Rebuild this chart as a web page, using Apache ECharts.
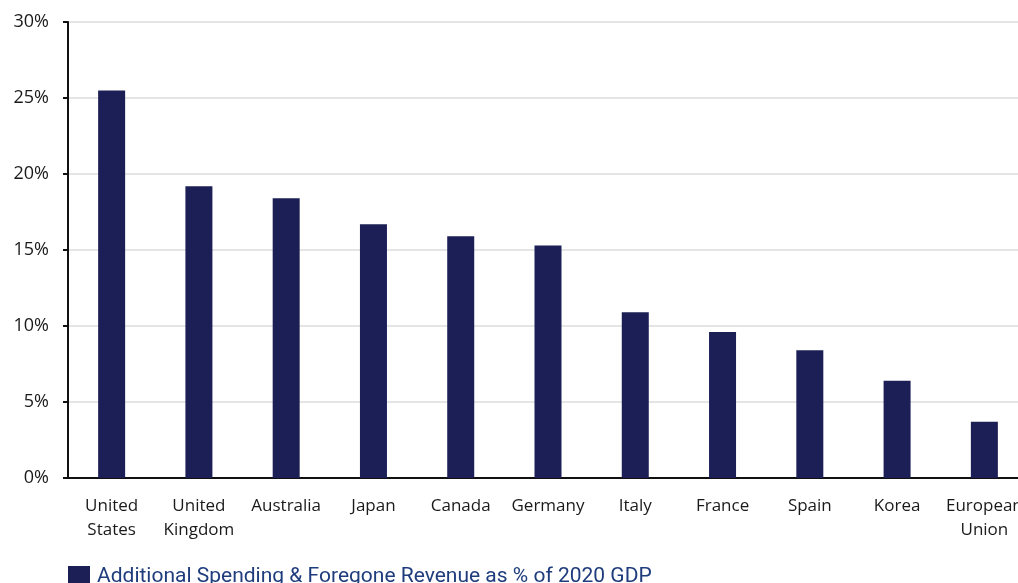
<!DOCTYPE html>
<html>
<head>
<meta charset="utf-8">
<script src="https://cdn.jsdelivr.net/npm/echarts@6/dist/echarts.min.js"></script>
<style>
  html, body { margin: 0; padding: 0; background: #ffffff; overflow: hidden; }
  /* plot runs slightly past the right edge of the page */
  #chart { width: 1028px; height: 583px; }
</style>
</head>
<body>
<div id="chart"></div>
<script>
// Countries on the category axis
const countries = ['United\nStates', 'United\nKingdom', 'Australia', 'Japan', 'Canada', 'Germany',
  'Italy', 'France', 'Spain', 'Korea', 'European\nUnion'];
// Additional spending & foregone revenue, % of 2020 GDP
const spendingPct = [25.5, 19.2, 18.4, 16.7, 15.9, 15.3, 10.9, 9.6, 8.4, 6.4, 3.7];
const seriesName = 'Additional Spending & Foregone Revenue as % of 2020 GDP';

const chart = echarts.init(document.getElementById('chart'), null, { renderer: 'canvas' });
const labelFont = '"Open Sans", "Liberation Sans", sans-serif';
const legendFont = 'Roboto, "Liberation Sans", sans-serif';

chart.setOption({
  animation: false,
  grid: { left: 68, right: 0, top: 22, bottom: 105, containLabel: false },
  legend: {
    left: 63, top: 561,
    itemWidth: 22, itemHeight: 22, itemGap: 8,
    icon: 'rect',
    textStyle: { color: '#1f3c7c', fontSize: 21, fontFamily: legendFont, padding: [0, 0, 0, 2] },
    data: [seriesName]
  },
  xAxis: {
    type: 'category',
    data: countries,
    axisLine: { lineStyle: { color: '#111111', width: 2 } },
    axisTick: { show: false },
    axisLabel: { color: '#1a1a1a', fontSize: 17, fontFamily: labelFont, margin: 16, lineHeight: 24, interval: 0 }
  },
  yAxis: {
    type: 'value',
    min: 0, max: 30, interval: 5,
    axisLine: { show: true, lineStyle: { color: '#111111', width: 2 } },
    axisTick: { show: true, length: 5, lineStyle: { color: '#111111', width: 2 } },
    axisLabel: { color: '#1a1a1a', fontSize: 18, fontFamily: labelFont, margin: 19, formatter: '{value}%' },
    splitLine: { lineStyle: { color: '#dcdcdc', width: 1.5 } }
  },
  series: [{
    name: seriesName,
    type: 'bar',
    data: spendingPct,
    barWidth: 27,
    itemStyle: { color: '#1c1f55' }
  }]
});
</script>
</body>
</html>
